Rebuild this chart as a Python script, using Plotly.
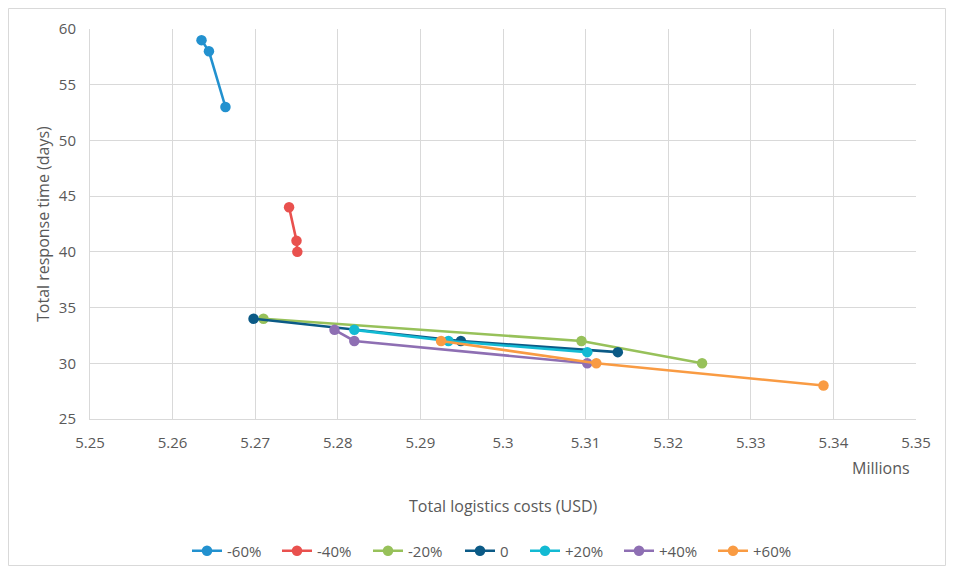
import plotly.graph_objects as go

series_names = ["-60%", "-40%", "-20%", "0", "+20%", "+40%", "+60%"]
costs_millions = [
    [5.2635, 5.2644, 5.2664],
    [5.2741, 5.2750, 5.2751],
    [5.2710, 5.3095, 5.3241],
    [5.2698, 5.2949, 5.3139],
    [5.2820, 5.2934, 5.3102],
    [5.2796, 5.2820, 5.3102],
    [5.2925, 5.3113, 5.3388],
]
response_days = [
    [59, 58, 53],
    [44, 41, 40],
    [34, 32, 30],
    [34, 32, 31],
    [33, 32, 31],
    [33, 32, 30],
    [32, 30, 28],
]
colors = ["#2291CF", "#E9514E", "#97C15A", "#0B5A86", "#13BAD3", "#8E6FB3", "#F99B43"]

x_tick_vals = [5.25, 5.26, 5.27, 5.28, 5.29, 5.30, 5.31, 5.32, 5.33, 5.34, 5.35]
x_tick_text = ["5.25", "5.26", "5.27", "5.28", "5.29", "5.3", "5.31", "5.32", "5.33", "5.34", "5.35"]
y_tick_vals = [25, 30, 35, 40, 45, 50, 55, 60]

FONT = "Open Sans"
GRAY = "#595959"

# page has an 8px body margin; size the figure to fit inside the window
OFF = 8
W, H = 954 - 2 * OFF, 574 - 2 * OFF
PL, PR, PT, PB = 90, 916, 29, 419  # plot area in page pixels
L, R, T, B = PL - OFF, W - (PR - OFF), PT - OFF, H - (PB - OFF)
pw, ph = PR - PL, PB - PT

def px_x(p):
    return (p - PL) / pw

def px_y(p):
    return (PB - p) / ph

legend_left_px = [192, 282, 373, 465, 530, 624, 718]

fig = go.Figure()
legend_layouts = {}
for i, (name, xs, ys, c) in enumerate(zip(series_names, costs_millions, response_days, colors)):
    lname = "legend" if i == 0 else f"legend{i + 1}"
    fig.add_trace(go.Scatter(
        x=xs, y=ys, name=name, mode="lines+markers",
        line=dict(color=c, width=2.6),
        marker=dict(color=c, size=10.5),
        legend=lname,
    ))
    legend_layouts[lname] = dict(
        orientation="h", x=px_x(legend_left_px[i] - 5), xanchor="left",
        y=px_y(551), yanchor="middle", bgcolor="rgba(0,0,0,0)",
        font=dict(size=15, color=GRAY),
    )

fig.update_layout(
    width=W, height=H,
    margin=dict(l=L, r=R, t=T, b=B, autoexpand=False),
    paper_bgcolor="white", plot_bgcolor="white",
    font=dict(family=FONT, size=14, color=GRAY),
    showlegend=True,
    xaxis=dict(range=[5.25, 5.35], tickvals=x_tick_vals, ticktext=x_tick_text,
               showgrid=True, gridcolor="#D9D9D9", gridwidth=1,
               showline=True, linecolor="#D9D9D9", linewidth=1,
               zeroline=False, ticks="", ticklabelstandoff=10,
               tickfont=dict(size=15, color=GRAY)),
    yaxis=dict(range=[25, 60], tickvals=y_tick_vals,
               showgrid=True, gridcolor="#D9D9D9", gridwidth=1,
               showline=True, linecolor="#D9D9D9", linewidth=1,
               zeroline=False, ticks="", ticklabelstandoff=10,
               tickfont=dict(size=15, color=GRAY)),
    annotations=[
        dict(text="Total logistics costs (USD)", xref="paper", yref="paper",
             x=px_x(503), y=px_y(506), showarrow=False, xanchor="center", yanchor="middle",
             font=dict(size=16, color=GRAY)),
        dict(text="Millions", xref="paper", yref="paper",
             x=px_x(881), y=px_y(468), showarrow=False, xanchor="center", yanchor="middle",
             font=dict(size=16, color=GRAY)),
        dict(text="Total response time (days)", xref="paper", yref="paper",
             x=px_x(43), y=px_y(224), showarrow=False, xanchor="center", yanchor="middle",
             textangle=-90, font=dict(size=16, color=GRAY)),
    ],
    shapes=[dict(type="rect", xref="paper", yref="paper",
                 x0=px_x(OFF + 0.5), x1=px_x(OFF + W - 0.5),
                 y0=px_y(OFF + H - 0.5), y1=px_y(OFF + 0.5),
                 line=dict(color="#D9D9D9", width=1), layer="below")],
    **legend_layouts,
)

fig.write_html("out.html")
